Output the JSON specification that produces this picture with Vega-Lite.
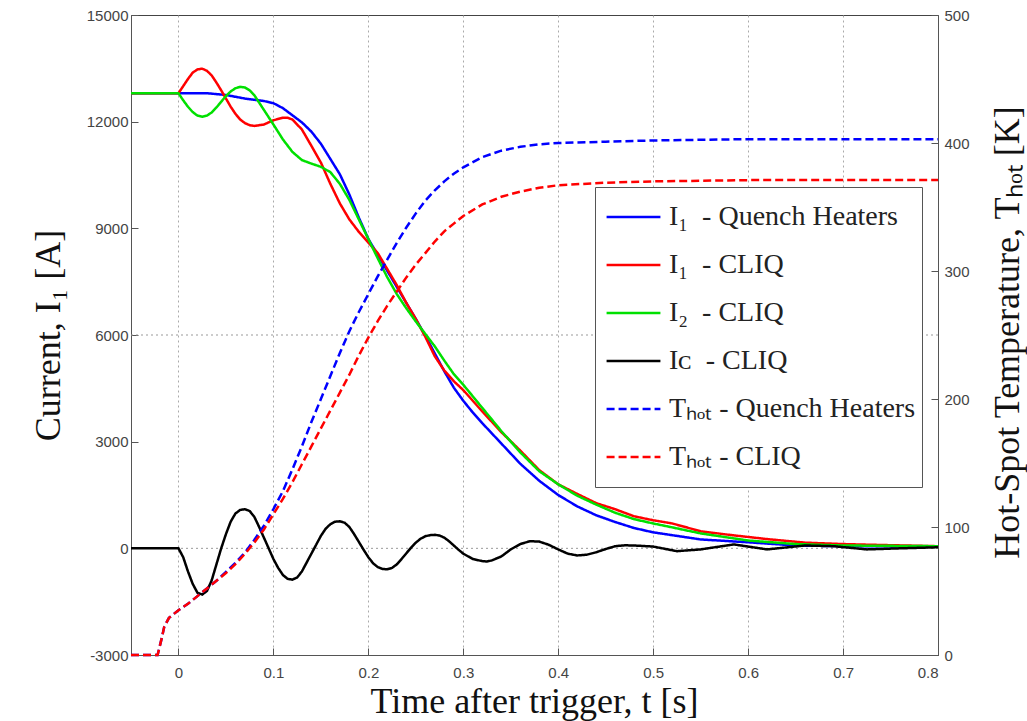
{
  "$schema": "https://vega.github.io/schema/vega-lite/v6.json",
  "width": 807,
  "height": 640,
  "autosize": {"type": "none"},
  "padding": {"left": 131, "top": 15, "right": 89, "bottom": 66},
  "background": "white",
  "config": {
    "view": {"stroke": "#444", "strokeWidth": 1},
    "axis": {
      "labelFont": "Liberation Sans",
      "labelFontSize": 15,
      "labelColor": "#444",
      "tickColor": "#555",
      "domainColor": "#555",
      "titleFont": "Liberation Serif",
      "titleFontWeight": "normal",
      "titleFontSize": 36,
      "titleColor": "#111",
      "tickSize": -7
    },
    "legend": {
      "symbolType": "stroke",
      "symbolSize": 2900,
      "symbolStrokeWidth": 2.5,
      "labelFont": "Liberation Serif",
      "labelFontSize": 28,
      "labelColor": "#222",
      "labelOffset": 7,
      "labelLimit": 500,
      "strokeColor": "#555",
      "fillColor": "white",
      "padding": 6,
      "clipHeight": 48,
      "rowPadding": 0,
      "symbolOffset": 4
    }
  },
  "datasets": {
    "grid": [{"g": 0}, {"g": 6000}],
    "cur": [
      {"t": -0.05, "s": "QH1", "v": 12800}, {"t": 0, "s": "QH1", "v": 12800}, {"t": 0.03, "s": "QH1", "v": 12800}, {"t": 0.05, "s": "QH1", "v": 12750}, {"t": 0.07, "s": "QH1", "v": 12650}, {"t": 0.09, "s": "QH1", "v": 12580}, {"t": 0.10, "s": "QH1", "v": 12520}, {"t": 0.11, "s": "QH1", "v": 12380}, {"t": 0.12, "s": "QH1", "v": 12180}, {"t": 0.13, "s": "QH1", "v": 11980}, {"t": 0.14, "s": "QH1", "v": 11720}, {"t": 0.15, "s": "QH1", "v": 11380}, {"t": 0.16, "s": "QH1", "v": 10950}, {"t": 0.17, "s": "QH1", "v": 10520}, {"t": 0.18, "s": "QH1", "v": 9950}, {"t": 0.19, "s": "QH1", "v": 9300}, {"t": 0.20, "s": "QH1", "v": 8700}, {"t": 0.21, "s": "QH1", "v": 8250}, {"t": 0.22, "s": "QH1", "v": 7800}, {"t": 0.23, "s": "QH1", "v": 7350}, {"t": 0.24, "s": "QH1", "v": 6900}, {"t": 0.25, "s": "QH1", "v": 6450}, {"t": 0.26, "s": "QH1", "v": 5980}, {"t": 0.27, "s": "QH1", "v": 5480}, {"t": 0.28, "s": "QH1", "v": 4980}, {"t": 0.29, "s": "QH1", "v": 4520}, {"t": 0.30, "s": "QH1", "v": 4150}, {"t": 0.31, "s": "QH1", "v": 3820}, {"t": 0.32, "s": "QH1", "v": 3520}, {"t": 0.34, "s": "QH1", "v": 2950}, {"t": 0.36, "s": "QH1", "v": 2380}, {"t": 0.38, "s": "QH1", "v": 1900}, {"t": 0.40, "s": "QH1", "v": 1500}, {"t": 0.42, "s": "QH1", "v": 1180}, {"t": 0.44, "s": "QH1", "v": 930}, {"t": 0.46, "s": "QH1", "v": 740}, {"t": 0.48, "s": "QH1", "v": 570}, {"t": 0.50, "s": "QH1", "v": 450}, {"t": 0.52, "s": "QH1", "v": 370}, {"t": 0.55, "s": "QH1", "v": 250}, {"t": 0.60, "s": "QH1", "v": 170}, {"t": 0.65, "s": "QH1", "v": 80}, {"t": 0.70, "s": "QH1", "v": 60}, {"t": 0.80, "s": "QH1", "v": 50},
      {"t": -0.05, "s": "CL1", "v": 12800}, {"t": 0, "s": "CL1", "v": 12800}, {"t": 0.005, "s": "CL1", "v": 13000}, {"t": 0.01, "s": "CL1", "v": 13200}, {"t": 0.015, "s": "CL1", "v": 13380}, {"t": 0.02, "s": "CL1", "v": 13470}, {"t": 0.025, "s": "CL1", "v": 13490}, {"t": 0.03, "s": "CL1", "v": 13430}, {"t": 0.035, "s": "CL1", "v": 13300}, {"t": 0.04, "s": "CL1", "v": 13100}, {"t": 0.045, "s": "CL1", "v": 12880}, {"t": 0.05, "s": "CL1", "v": 12650}, {"t": 0.055, "s": "CL1", "v": 12420}, {"t": 0.06, "s": "CL1", "v": 12220}, {"t": 0.065, "s": "CL1", "v": 12060}, {"t": 0.07, "s": "CL1", "v": 11960}, {"t": 0.075, "s": "CL1", "v": 11900}, {"t": 0.08, "s": "CL1", "v": 11880}, {"t": 0.09, "s": "CL1", "v": 11920}, {"t": 0.10, "s": "CL1", "v": 12040}, {"t": 0.11, "s": "CL1", "v": 12110}, {"t": 0.115, "s": "CL1", "v": 12110}, {"t": 0.12, "s": "CL1", "v": 12060}, {"t": 0.13, "s": "CL1", "v": 11780}, {"t": 0.14, "s": "CL1", "v": 11320}, {"t": 0.15, "s": "CL1", "v": 10850}, {"t": 0.16, "s": "CL1", "v": 10250}, {"t": 0.17, "s": "CL1", "v": 9700}, {"t": 0.18, "s": "CL1", "v": 9250}, {"t": 0.19, "s": "CL1", "v": 8900}, {"t": 0.20, "s": "CL1", "v": 8600}, {"t": 0.21, "s": "CL1", "v": 8300}, {"t": 0.22, "s": "CL1", "v": 7850}, {"t": 0.23, "s": "CL1", "v": 7400}, {"t": 0.24, "s": "CL1", "v": 6900}, {"t": 0.25, "s": "CL1", "v": 6450}, {"t": 0.26, "s": "CL1", "v": 5950}, {"t": 0.27, "s": "CL1", "v": 5400}, {"t": 0.28, "s": "CL1", "v": 5000}, {"t": 0.29, "s": "CL1", "v": 4700}, {"t": 0.30, "s": "CL1", "v": 4450}, {"t": 0.32, "s": "CL1", "v": 3850}, {"t": 0.34, "s": "CL1", "v": 3270}, {"t": 0.36, "s": "CL1", "v": 2750}, {"t": 0.38, "s": "CL1", "v": 2200}, {"t": 0.40, "s": "CL1", "v": 1800}, {"t": 0.42, "s": "CL1", "v": 1530}, {"t": 0.44, "s": "CL1", "v": 1270}, {"t": 0.46, "s": "CL1", "v": 1100}, {"t": 0.48, "s": "CL1", "v": 900}, {"t": 0.50, "s": "CL1", "v": 790}, {"t": 0.52, "s": "CL1", "v": 700}, {"t": 0.55, "s": "CL1", "v": 480}, {"t": 0.58, "s": "CL1", "v": 380}, {"t": 0.62, "s": "CL1", "v": 260}, {"t": 0.66, "s": "CL1", "v": 160}, {"t": 0.70, "s": "CL1", "v": 120}, {"t": 0.73, "s": "CL1", "v": 100}, {"t": 0.80, "s": "CL1", "v": 60},
      {"t": -0.05, "s": "CL2", "v": 12800}, {"t": 0, "s": "CL2", "v": 12800}, {"t": 0.005, "s": "CL2", "v": 12600}, {"t": 0.01, "s": "CL2", "v": 12420}, {"t": 0.015, "s": "CL2", "v": 12270}, {"t": 0.02, "s": "CL2", "v": 12170}, {"t": 0.025, "s": "CL2", "v": 12140}, {"t": 0.03, "s": "CL2", "v": 12170}, {"t": 0.035, "s": "CL2", "v": 12260}, {"t": 0.04, "s": "CL2", "v": 12400}, {"t": 0.045, "s": "CL2", "v": 12560}, {"t": 0.05, "s": "CL2", "v": 12720}, {"t": 0.055, "s": "CL2", "v": 12850}, {"t": 0.06, "s": "CL2", "v": 12940}, {"t": 0.065, "s": "CL2", "v": 12980}, {"t": 0.07, "s": "CL2", "v": 12960}, {"t": 0.075, "s": "CL2", "v": 12880}, {"t": 0.08, "s": "CL2", "v": 12740}, {"t": 0.09, "s": "CL2", "v": 12330}, {"t": 0.10, "s": "CL2", "v": 11920}, {"t": 0.11, "s": "CL2", "v": 11500}, {"t": 0.12, "s": "CL2", "v": 11150}, {"t": 0.13, "s": "CL2", "v": 10920}, {"t": 0.14, "s": "CL2", "v": 10820}, {"t": 0.15, "s": "CL2", "v": 10730}, {"t": 0.16, "s": "CL2", "v": 10580}, {"t": 0.17, "s": "CL2", "v": 10250}, {"t": 0.18, "s": "CL2", "v": 9800}, {"t": 0.19, "s": "CL2", "v": 9250}, {"t": 0.20, "s": "CL2", "v": 8700}, {"t": 0.21, "s": "CL2", "v": 8150}, {"t": 0.22, "s": "CL2", "v": 7620}, {"t": 0.23, "s": "CL2", "v": 7150}, {"t": 0.24, "s": "CL2", "v": 6750}, {"t": 0.25, "s": "CL2", "v": 6380}, {"t": 0.26, "s": "CL2", "v": 6030}, {"t": 0.27, "s": "CL2", "v": 5680}, {"t": 0.28, "s": "CL2", "v": 5280}, {"t": 0.29, "s": "CL2", "v": 4900}, {"t": 0.30, "s": "CL2", "v": 4600}, {"t": 0.32, "s": "CL2", "v": 3950}, {"t": 0.34, "s": "CL2", "v": 3300}, {"t": 0.36, "s": "CL2", "v": 2700}, {"t": 0.38, "s": "CL2", "v": 2170}, {"t": 0.40, "s": "CL2", "v": 1800}, {"t": 0.42, "s": "CL2", "v": 1480}, {"t": 0.44, "s": "CL2", "v": 1230}, {"t": 0.46, "s": "CL2", "v": 1000}, {"t": 0.48, "s": "CL2", "v": 820}, {"t": 0.50, "s": "CL2", "v": 700}, {"t": 0.52, "s": "CL2", "v": 590}, {"t": 0.55, "s": "CL2", "v": 420}, {"t": 0.60, "s": "CL2", "v": 220}, {"t": 0.65, "s": "CL2", "v": 120}, {"t": 0.70, "s": "CL2", "v": 80}, {"t": 0.80, "s": "CL2", "v": 60},
      {"t": -0.05, "s": "CLC", "v": 0}, {"t": 0, "s": "CLC", "v": 0}, {"t": 0.005, "s": "CLC", "v": -250}, {"t": 0.01, "s": "CLC", "v": -650}, {"t": 0.015, "s": "CLC", "v": -1000}, {"t": 0.02, "s": "CLC", "v": -1250}, {"t": 0.025, "s": "CLC", "v": -1300}, {"t": 0.03, "s": "CLC", "v": -1200}, {"t": 0.035, "s": "CLC", "v": -900}, {"t": 0.04, "s": "CLC", "v": -450}, {"t": 0.045, "s": "CLC", "v": 0}, {"t": 0.05, "s": "CLC", "v": 400}, {"t": 0.055, "s": "CLC", "v": 750}, {"t": 0.06, "s": "CLC", "v": 980}, {"t": 0.065, "s": "CLC", "v": 1080}, {"t": 0.07, "s": "CLC", "v": 1100}, {"t": 0.075, "s": "CLC", "v": 1050}, {"t": 0.08, "s": "CLC", "v": 880}, {"t": 0.085, "s": "CLC", "v": 600}, {"t": 0.09, "s": "CLC", "v": 300}, {"t": 0.095, "s": "CLC", "v": 0}, {"t": 0.10, "s": "CLC", "v": -300}, {"t": 0.105, "s": "CLC", "v": -550}, {"t": 0.11, "s": "CLC", "v": -750}, {"t": 0.115, "s": "CLC", "v": -860}, {"t": 0.12, "s": "CLC", "v": -880}, {"t": 0.125, "s": "CLC", "v": -820}, {"t": 0.13, "s": "CLC", "v": -650}, {"t": 0.135, "s": "CLC", "v": -400}, {"t": 0.14, "s": "CLC", "v": -150}, {"t": 0.145, "s": "CLC", "v": 100}, {"t": 0.15, "s": "CLC", "v": 350}, {"t": 0.155, "s": "CLC", "v": 550}, {"t": 0.16, "s": "CLC", "v": 680}, {"t": 0.165, "s": "CLC", "v": 750}, {"t": 0.17, "s": "CLC", "v": 760}, {"t": 0.175, "s": "CLC", "v": 720}, {"t": 0.18, "s": "CLC", "v": 600}, {"t": 0.185, "s": "CLC", "v": 400}, {"t": 0.19, "s": "CLC", "v": 180}, {"t": 0.195, "s": "CLC", "v": -40}, {"t": 0.20, "s": "CLC", "v": -250}, {"t": 0.205, "s": "CLC", "v": -420}, {"t": 0.21, "s": "CLC", "v": -530}, {"t": 0.215, "s": "CLC", "v": -580}, {"t": 0.22, "s": "CLC", "v": -590}, {"t": 0.225, "s": "CLC", "v": -550}, {"t": 0.23, "s": "CLC", "v": -450}, {"t": 0.235, "s": "CLC", "v": -300}, {"t": 0.24, "s": "CLC", "v": -140}, {"t": 0.245, "s": "CLC", "v": 20}, {"t": 0.25, "s": "CLC", "v": 160}, {"t": 0.255, "s": "CLC", "v": 270}, {"t": 0.26, "s": "CLC", "v": 340}, {"t": 0.265, "s": "CLC", "v": 370}, {"t": 0.27, "s": "CLC", "v": 380}, {"t": 0.275, "s": "CLC", "v": 360}, {"t": 0.28, "s": "CLC", "v": 300}, {"t": 0.285, "s": "CLC", "v": 200}, {"t": 0.29, "s": "CLC", "v": 80}, {"t": 0.295, "s": "CLC", "v": -40}, {"t": 0.30, "s": "CLC", "v": -150}, {"t": 0.31, "s": "CLC", "v": -300}, {"t": 0.32, "s": "CLC", "v": -360}, {"t": 0.325, "s": "CLC", "v": -370}, {"t": 0.33, "s": "CLC", "v": -340}, {"t": 0.34, "s": "CLC", "v": -230}, {"t": 0.35, "s": "CLC", "v": -30}, {"t": 0.36, "s": "CLC", "v": 120}, {"t": 0.37, "s": "CLC", "v": 200}, {"t": 0.38, "s": "CLC", "v": 190}, {"t": 0.39, "s": "CLC", "v": 100}, {"t": 0.40, "s": "CLC", "v": -30}, {"t": 0.41, "s": "CLC", "v": -150}, {"t": 0.42, "s": "CLC", "v": -200}, {"t": 0.43, "s": "CLC", "v": -180}, {"t": 0.44, "s": "CLC", "v": -110}, {"t": 0.45, "s": "CLC", "v": -20}, {"t": 0.46, "s": "CLC", "v": 60}, {"t": 0.47, "s": "CLC", "v": 85}, {"t": 0.48, "s": "CLC", "v": 80}, {"t": 0.50, "s": "CLC", "v": 50}, {"t": 0.525, "s": "CLC", "v": -80}, {"t": 0.55, "s": "CLC", "v": -30}, {"t": 0.585, "s": "CLC", "v": 110}, {"t": 0.62, "s": "CLC", "v": -30}, {"t": 0.66, "s": "CLC", "v": 80}, {"t": 0.69, "s": "CLC", "v": 60}, {"t": 0.725, "s": "CLC", "v": -30}, {"t": 0.76, "s": "CLC", "v": 0}, {"t": 0.80, "s": "CLC", "v": 30}
    ],
    "temp": [
      {"t": -0.05, "s": "TQH", "v": 0}, {"t": -0.022, "s": "TQH", "v": 0}, {"t": -0.018, "s": "TQH", "v": 12}, {"t": -0.015, "s": "TQH", "v": 22}, {"t": -0.01, "s": "TQH", "v": 29}, {"t": -0.005, "s": "TQH", "v": 32}, {"t": 0, "s": "TQH", "v": 35}, {"t": 0.01, "s": "TQH", "v": 40}, {"t": 0.02, "s": "TQH", "v": 46}, {"t": 0.03, "s": "TQH", "v": 52}, {"t": 0.04, "s": "TQH", "v": 58}, {"t": 0.05, "s": "TQH", "v": 65}, {"t": 0.06, "s": "TQH", "v": 72}, {"t": 0.07, "s": "TQH", "v": 80}, {"t": 0.08, "s": "TQH", "v": 90}, {"t": 0.09, "s": "TQH", "v": 101}, {"t": 0.10, "s": "TQH", "v": 114}, {"t": 0.11, "s": "TQH", "v": 128}, {"t": 0.12, "s": "TQH", "v": 145}, {"t": 0.13, "s": "TQH", "v": 163}, {"t": 0.14, "s": "TQH", "v": 182}, {"t": 0.15, "s": "TQH", "v": 200}, {"t": 0.16, "s": "TQH", "v": 218}, {"t": 0.17, "s": "TQH", "v": 236}, {"t": 0.18, "s": "TQH", "v": 253}, {"t": 0.19, "s": "TQH", "v": 268}, {"t": 0.20, "s": "TQH", "v": 282}, {"t": 0.21, "s": "TQH", "v": 296}, {"t": 0.22, "s": "TQH", "v": 309}, {"t": 0.23, "s": "TQH", "v": 322}, {"t": 0.24, "s": "TQH", "v": 334}, {"t": 0.25, "s": "TQH", "v": 345}, {"t": 0.26, "s": "TQH", "v": 355}, {"t": 0.27, "s": "TQH", "v": 363}, {"t": 0.28, "s": "TQH", "v": 370}, {"t": 0.29, "s": "TQH", "v": 376}, {"t": 0.30, "s": "TQH", "v": 381}, {"t": 0.32, "s": "TQH", "v": 389}, {"t": 0.34, "s": "TQH", "v": 394}, {"t": 0.36, "s": "TQH", "v": 397}, {"t": 0.38, "s": "TQH", "v": 399}, {"t": 0.40, "s": "TQH", "v": 400}, {"t": 0.45, "s": "TQH", "v": 401}, {"t": 0.50, "s": "TQH", "v": 402}, {"t": 0.60, "s": "TQH", "v": 403}, {"t": 0.80, "s": "TQH", "v": 403},
      {"t": -0.05, "s": "TCL", "v": 0}, {"t": -0.022, "s": "TCL", "v": 0}, {"t": -0.018, "s": "TCL", "v": 12}, {"t": -0.015, "s": "TCL", "v": 22}, {"t": -0.01, "s": "TCL", "v": 29}, {"t": -0.005, "s": "TCL", "v": 32}, {"t": 0, "s": "TCL", "v": 35}, {"t": 0.01, "s": "TCL", "v": 40}, {"t": 0.02, "s": "TCL", "v": 46}, {"t": 0.03, "s": "TCL", "v": 52}, {"t": 0.04, "s": "TCL", "v": 58}, {"t": 0.05, "s": "TCL", "v": 64}, {"t": 0.06, "s": "TCL", "v": 71}, {"t": 0.07, "s": "TCL", "v": 79}, {"t": 0.08, "s": "TCL", "v": 88}, {"t": 0.09, "s": "TCL", "v": 98}, {"t": 0.10, "s": "TCL", "v": 110}, {"t": 0.11, "s": "TCL", "v": 122}, {"t": 0.12, "s": "TCL", "v": 135}, {"t": 0.13, "s": "TCL", "v": 149}, {"t": 0.14, "s": "TCL", "v": 163}, {"t": 0.15, "s": "TCL", "v": 177}, {"t": 0.16, "s": "TCL", "v": 191}, {"t": 0.17, "s": "TCL", "v": 205}, {"t": 0.18, "s": "TCL", "v": 219}, {"t": 0.19, "s": "TCL", "v": 234}, {"t": 0.20, "s": "TCL", "v": 248}, {"t": 0.21, "s": "TCL", "v": 261}, {"t": 0.22, "s": "TCL", "v": 273}, {"t": 0.23, "s": "TCL", "v": 284}, {"t": 0.24, "s": "TCL", "v": 295}, {"t": 0.25, "s": "TCL", "v": 305}, {"t": 0.26, "s": "TCL", "v": 314}, {"t": 0.27, "s": "TCL", "v": 323}, {"t": 0.28, "s": "TCL", "v": 331}, {"t": 0.29, "s": "TCL", "v": 337}, {"t": 0.30, "s": "TCL", "v": 343}, {"t": 0.32, "s": "TCL", "v": 352}, {"t": 0.34, "s": "TCL", "v": 358}, {"t": 0.36, "s": "TCL", "v": 362}, {"t": 0.38, "s": "TCL", "v": 365}, {"t": 0.40, "s": "TCL", "v": 367}, {"t": 0.45, "s": "TCL", "v": 369}, {"t": 0.50, "s": "TCL", "v": 370}, {"t": 0.60, "s": "TCL", "v": 371}, {"t": 0.80, "s": "TCL", "v": 371}
    ]
  },
  "layer": [
    {
      "layer": [
        {
          "data": {"name": "grid"},
          "mark": {"type": "rule", "color": "#999", "strokeDash": [2, 3], "strokeWidth": 1},
          "encoding": {
            "y": {"field": "g", "type": "quantitative", "scale": {"domain": [-3000, 15000], "nice": false, "zero": false},
              "axis": {"title": "Current, I\u2081 [A]", "values": [-3000, 0, 3000, 6000, 9000, 12000, 15000], "labelExpr": "'' + datum.value", "grid": false, "labelPadding": 10, "titleX": -83, "titleY": 320, "titleBaseline": "middle", "titleAlign": "center", "titleAngle": 270}}
          }
        },
        {
          "data": {"name": "cur"},
          "mark": {"type": "line", "strokeWidth": 2.5},
          "encoding": {
            "x": {"field": "t", "type": "quantitative", "scale": {"domain": [-0.05, 0.8], "nice": false, "zero": false},
              "axis": {"title": "Time after trigger, t [s]", "values": [0, 0.1, 0.2, 0.3, 0.4, 0.5, 0.6, 0.7, 0.8], "labelExpr": "datum.value == 0 ? '0' : format(datum.value, '.1f')", "grid": true, "gridColor": "#aaa", "gridDash": [2, 3], "labelPadding": 17, "titleX": 403, "titleY": 57, "titleBaseline": "alphabetic"}},
            "y": {"field": "v", "type": "quantitative", "scale": {"domain": [-3000, 15000], "nice": false, "zero": false},
              "axis": {"title": "Current, I\u2081 [A]", "values": [-3000, 0, 3000, 6000, 9000, 12000, 15000], "labelExpr": "'' + datum.value", "grid": false, "labelPadding": 10, "titleX": -83, "titleY": 320, "titleBaseline": "middle", "titleAlign": "center", "titleAngle": 270}},
            "color": {"field": "s", "type": "nominal",
              "scale": {"domain": ["QH1", "CL1", "CL2", "CLC", "TQH", "TCL"], "range": ["#0000ff", "#ff0000", "#00e000", "#000000", "#0000ff", "#ff0000"]},
              "legend": {"title": null, "orient": "none", "legendX": 464, "legendY": 172,
                "labelExpr": "datum.label == 'QH1' ? 'I\u2081\u00a0\u00a0- Quench Heaters' : datum.label == 'CL1' ? 'I\u2081\u00a0\u00a0- CLIQ' : datum.label == 'CL2' ? 'I\u2082\u00a0\u00a0- CLIQ' : datum.label == 'CLC' ? 'I\u1d04\u00a0\u00a0- CLIQ' : datum.label == 'TQH' ? 'T\u2095\u2092\u209c\u00a0- Quench Heaters' : 'T\u2095\u2092\u209c\u00a0- CLIQ'"}},
            "strokeDash": {"field": "s", "type": "nominal",
              "scale": {"domain": ["QH1", "CL1", "CL2", "CLC", "TQH", "TCL"], "range": [[1, 0], [1, 0], [1, 0], [1, 0], [8, 4], [8, 4]]},
              "legend": {"title": null, "orient": "none", "legendX": 464, "legendY": 172}}
          }
        }
      ]
    },
    {
      "data": {"name": "temp"},
      "mark": {"type": "line", "strokeWidth": 2.5},
      "encoding": {
        "x": {"field": "t", "type": "quantitative", "scale": {"domain": [-0.05, 0.8], "nice": false, "zero": false},
          "axis": {"title": "Time after trigger, t [s]", "values": [0, 0.1, 0.2, 0.3, 0.4, 0.5, 0.6, 0.7, 0.8], "labelExpr": "datum.value == 0 ? '0' : format(datum.value, '.1f')", "grid": true, "gridColor": "#aaa", "gridDash": [2, 3], "labelPadding": 17, "titleX": 403, "titleY": 57, "titleBaseline": "alphabetic"}},
        "y": {"field": "v", "type": "quantitative", "scale": {"domain": [0, 500], "nice": false, "zero": false},
          "axis": {"orient": "right", "title": "Hot-Spot Temperature, T\u2095\u2092\u209c [K]", "values": [0, 100, 200, 300, 400, 500], "grid": false, "labelPadding": 13, "titleX": 69, "titleY": 317, "titleAngle": 270, "titleBaseline": "middle", "titleAlign": "center"}},
        "color": {"field": "s", "type": "nominal",
          "scale": {"domain": ["QH1", "CL1", "CL2", "CLC", "TQH", "TCL"], "range": ["#0000ff", "#ff0000", "#00e000", "#000000", "#0000ff", "#ff0000"]},
          "legend": {"title": null, "orient": "none", "legendX": 464, "legendY": 172}},
        "strokeDash": {"field": "s", "type": "nominal",
          "scale": {"domain": ["QH1", "CL1", "CL2", "CLC", "TQH", "TCL"], "range": [[1, 0], [1, 0], [1, 0], [1, 0], [8, 4], [8, 4]]},
          "legend": {"title": null, "orient": "none", "legendX": 464, "legendY": 172}}
      }
    }
  ],
  "resolve": {"scale": {"y": "independent"}}
}
